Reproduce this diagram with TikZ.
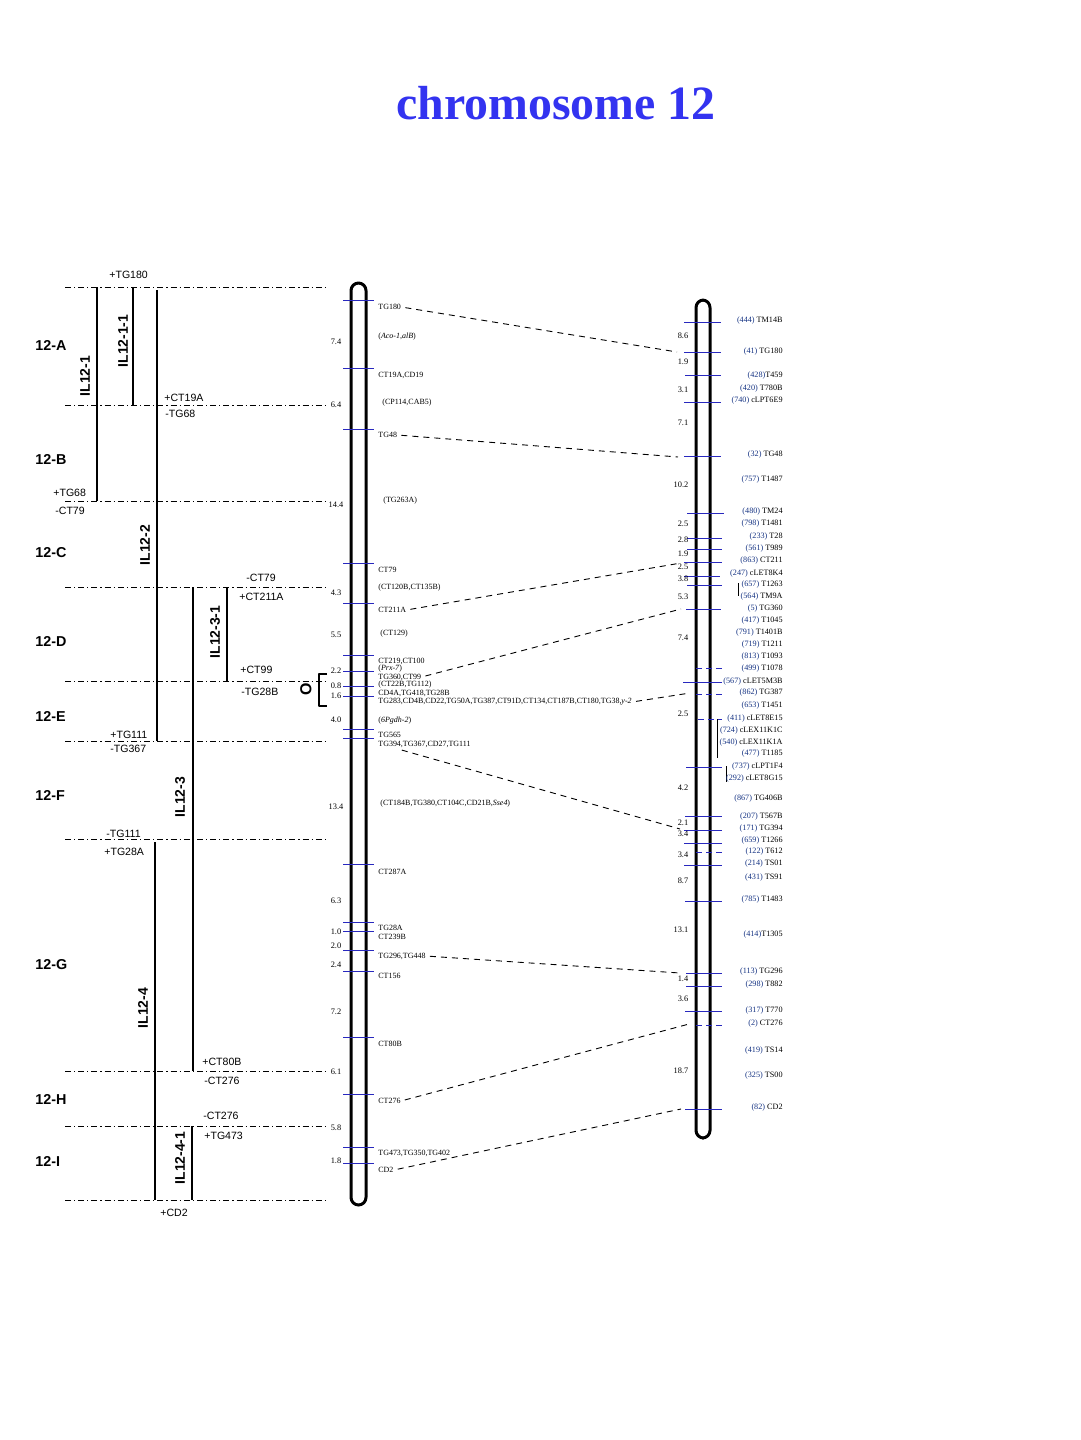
\documentclass[tikz,border=0pt]{standalone}
\usepackage{fontspec}
\setmainfont{Liberation Serif}
\setsansfont{Liberation Sans}
\definecolor{titleblue}{RGB}{51,51,240}
\definecolor{tickblue}{RGB}{40,40,190}
\definecolor{numblue}{RGB}{20,50,130}
\newcommand\pn[1]{{\color{numblue}(#1)}}
\begin{document}
\begin{tikzpicture}[x=0.5bp,y=-0.5bp,line join=bevel,
  mk/.style={font=\fontsize{4.0}{5}\selectfont,inner sep=0pt,anchor=west},
  mkr/.style={font=\fontsize{4.1}{5}\selectfont,inner sep=0pt,anchor=east},
  dist/.style={font=\fontsize{4.2}{5}\selectfont,inner sep=0pt},
  sgn/.style={font=\sffamily\fontsize{5.3}{6}\selectfont,inner sep=0pt,anchor=west},
  reg/.style={font=\sffamily\bfseries\fontsize{7.2}{8}\selectfont,inner sep=0pt,anchor=west},
  il/.style={font=\sffamily\bfseries\fontsize{7}{8}\selectfont,inner sep=0pt,rotate=90},
  bnd/.style={line width=0.45bp,dash pattern=on 3bp off 1.5bp on 0.6bp off 1.5bp},
  bar/.style={line width=1.1bp},
  tk/.style={tickblue,line width=0.5bp},
  tkd/.style={tickblue,line width=0.5bp,dash pattern=on 3bp off 2bp},
  lnk/.style={line width=0.45bp,dash pattern=on 3bp off 2.5bp,shorten <=2bp},
  chr/.style={line width=1.5bp,rounded corners=3.8bp},
]
    %%
    \useasboundingbox (0,0) rectangle (1080,1440);
    \node (title) at (556,103) [font=\bfseries\fontsize{24}{28}\selectfont,text=titleblue] {chromosome 12};
    %% bin boundaries
    \draw [bnd] (65,287) -- (328,287);
    \draw [bnd] (65,405) -- (328,405);
    \draw [bnd] (65,501) -- (328,501);
    \draw [bnd] (65,587) -- (328,587);
    \draw [bnd] (65,681) -- (328,681);
    \draw [bnd] (65,741) -- (328,741);
    \draw [bnd] (65,839) -- (328,839);
    \draw [bnd] (65,1071) -- (328,1071);
    \draw [bnd] (65,1126) -- (328,1126);
    \draw [bnd] (65,1200) -- (328,1200);
    %% bins
    \node (12A) at (35,345) [reg] {12-A};
    \node (12B) at (35,459) [reg] {12-B};
    \node (12C) at (35,553) [reg] {12-C};
    \node (12D) at (35,641) [reg] {12-D};
    \node (12E) at (35,716) [reg] {12-E};
    \node (12F) at (35,795) [reg] {12-F};
    \node (12G) at (35,965) [reg] {12-G};
    \node (12H) at (35,1099) [reg] {12-H};
    \node (12I) at (35,1161) [reg] {12-I};
    %% introgression lines
    \draw [bar] (97,287) -- (97,501);
    \draw [bar] (133,287) -- (133,405);
    \draw [bar] (157,290) -- (157,741);
    \draw [bar] (227,587) -- (227,681);
    \draw [bar] (193,587) -- (193,1071);
    \draw [bar] (155,842) -- (155,1200);
    \draw [bar] (192,1126) -- (192,1200);
    \node (IL121) at (85,376) [il] {IL12-1};
    \node (IL1211) at (123,341) [il] {IL12-1-1};
    \node (IL122) at (145,545) [il] {IL12-2};
    \node (IL1231) at (215,632) [il] {IL12-3-1};
    \node (IL123) at (180,797) [il] {IL12-3};
    \node (IL124) at (143,1008) [il] {IL12-4};
    \node (IL1241) at (180,1158) [il] {IL12-4-1};
    %% end markers
    \node (s1) at (109,275) [sgn] {+TG180};
    \node (s2) at (164,398) [sgn] {+CT19A};
    \node (s3) at (165,414) [sgn] {-TG68};
    \node (s4) at (53,493) [sgn] {+TG68};
    \node (s5) at (55,511) [sgn] {-CT79};
    \node (s6) at (246,578) [sgn] {-CT79};
    \node (s7) at (239,597) [sgn] {+CT211A};
    \node (s8) at (240,670) [sgn] {+CT99};
    \node (s9) at (241,692) [sgn] {-TG28B};
    \node (s10) at (110,735) [sgn] {+TG111};
    \node (s11) at (110,749) [sgn] {-TG367};
    \node (s12) at (106,834) [sgn] {-TG111};
    \node (s13) at (104,852) [sgn] {+TG28A};
    \node (s14) at (202,1062) [sgn] {+CT80B};
    \node (s15) at (204,1081) [sgn] {-CT276};
    \node (s16) at (203,1116) [sgn] {-CT276};
    \node (s17) at (204,1136) [sgn] {+TG473};
    \node (s18) at (160,1213) [sgn] {+CD2};
    \node (ovl) at (306,689) [font=\sffamily\bfseries\fontsize{8}{8}\selectfont,inner sep=0pt,rotate=90] {O};
    \draw [line width=1.2bp] (327,674) -- (319,674) -- (319,706) -- (327,706);
    %% left map
    \draw [chr] (351,283) rectangle (366,1205);
    \draw [tk] (343,300) -- (374,300);
    \draw [tk] (343,368) -- (374,368);
    \draw [tk] (343,429) -- (374,429);
    \draw [tk] (343,563) -- (374,563);
    \draw [tk] (343,603) -- (374,603);
    \draw [tk] (343,655) -- (374,655);
    \draw [tk] (343,671) -- (374,671);
    \draw [tk] (343,686) -- (374,686);
    \draw [tk] (343,696) -- (374,696);
    \draw [tk] (343,729) -- (374,729);
    \draw [tk] (343,738) -- (374,738);
    \draw [tk] (343,864) -- (374,864);
    \draw [tk] (343,922) -- (374,922);
    \draw [tk] (343,931) -- (374,931);
    \draw [tk] (343,950) -- (374,950);
    \draw [tk] (343,971) -- (374,971);
    \draw [tk] (343,1037) -- (374,1037);
    \draw [tk] (343,1094) -- (374,1094);
    \draw [tk] (343,1147) -- (374,1147);
    \draw [tk] (343,1163) -- (374,1163);
    \node (d1) at (336,342) [dist] {7.4};
    \node (d2) at (336,405) [dist] {6.4};
    \node (d3) at (336,505) [dist] {14.4};
    \node (d4) at (336,593) [dist] {4.3};
    \node (d5) at (336,635) [dist] {5.5};
    \node (d6) at (336,671) [dist] {2.2};
    \node (d7) at (336,686) [dist] {0.8};
    \node (d8) at (336,696) [dist] {1.6};
    \node (d9) at (336,720) [dist] {4.0};
    \node (d10) at (336,807) [dist] {13.4};
    \node (d11) at (336,901) [dist] {6.3};
    \node (d12) at (336,932) [dist] {1.0};
    \node (d13) at (336,946) [dist] {2.0};
    \node (d14) at (336,965) [dist] {2.4};
    \node (d15) at (336,1012) [dist] {7.2};
    \node (d16) at (336,1072) [dist] {6.1};
    \node (d17) at (336,1128) [dist] {5.8};
    \node (d18) at (336,1161) [dist] {1.8};
    \node (TG180) at (378,307) [mk] {TG180};
    \node (Aco) at (378,337) [mk] {(\textit{Aco-1,alB})};
    \node (CT19A) at (378,375) [mk] {CT19A,CD19};
    \node (CP114) at (382,403) [mk] {(CP114,CAB5)};
    \node (TG48) at (378,435) [mk] {TG48};
    \node (TG263A) at (383,501) [mk] {(TG263A)};
    \node (CT79) at (378,570) [mk] {CT79};
    \node (CT120B) at (378,588) [mk] {(CT120B,CT135B)};
    \node (CT211A) at (378,610) [mk] {CT211A};
    \node (CT129) at (380,634) [mk] {(CT129)};
    \node (CT219) at (378,661) [mk] {CT219,CT100};
    \node (Prx) at (378,669) [mk] {(\textit{Prx-7})};
    \node (TG360) at (378,677) [mk] {TG360,CT99};
    \node (CT22B) at (378,685) [mk] {(CT22B,TG112)};
    \node (CD4A) at (378,693) [mk] {CD4A,TG418,TG28B};
    \node (TG283) at (378,702) [mk] {TG283,CD4B,CD22,TG50A,TG387,CT91D,CT134,CT187B,CT180,TG38,\textit{y-2}};
    \node (Pgdh) at (378,721) [mk] {(\textit{6Pgdh-2})};
    \node (TG565) at (378,735) [mk] {TG565};
    \node (TG394) at (378,744) [mk] {TG394,TG367,CD27,TG111};
    \node (CT184B) at (380,804) [mk] {(CT184B,TG380,CT104C,CD21B,\textit{Sse4})};
    \node (CT287A) at (378,872) [mk] {CT287A};
    \node (TG28A) at (378,928) [mk] {TG28A};
    \node (CT239B) at (378,937) [mk] {CT239B};
    \node (TG296) at (378,956) [mk] {TG296,TG448};
    \node (CT156) at (378,976) [mk] {CT156};
    \node (CT80B) at (378,1044) [mk] {CT80B};
    \node (CT276) at (378,1101) [mk] {CT276};
    \node (TG473) at (378,1153) [mk] {TG473,TG350,TG402};
    \node (CD2) at (378,1170) [mk] {CD2};
    %% right map
    \draw [chr] (696,300) rectangle (710,1138);
    \draw [tk] (684,322) -- (721,322);
    \draw [tk] (684,352) -- (721,352);
    \draw [tk] (685,375) -- (721,375);
    \draw [tk] (684,402) -- (721,402);
    \draw [tk] (684,456) -- (721,456);
    \draw [tk] (687,513) -- (724,513);
    \draw [tk] (687,538) -- (722,538);
    \draw [tk] (687,549) -- (722,549);
    \draw [tk] (684,562) -- (722,562);
    \draw [tk] (684,576) -- (720,576);
    \draw [tk] (687,585) -- (722,585);
    \draw [tk] (686,609) -- (721,609);
    \draw [tkd] (696,668) -- (722,668);
    \draw [tk] (683,682) -- (722,682);
    \draw [tkd] (696,694) -- (722,694);
    \draw [tkd] (698,719) -- (722,719);
    \draw [tk] (686,767) -- (722,767);
    \draw [tk] (685,816) -- (722,816);
    \draw [tk] (684,830) -- (722,830);
    \draw [tk] (684,843) -- (722,843);
    \draw [tkd] (696,852) -- (722,852);
    \draw [tk] (684,865) -- (722,865);
    \draw [tk] (685,901) -- (722,901);
    \draw [tk] (686,973) -- (722,973);
    \draw [tk] (686,986) -- (722,986);
    \draw [tk] (685,1011) -- (722,1011);
    \draw [tkd] (696,1025) -- (722,1025);
    \draw [tk] (685,1109) -- (722,1109);
    \draw [line width=0.5bp] (738,583) -- (738,596);
    \draw [line width=0.5bp] (717,719) -- (717,758);
    \draw [line width=0.5bp] (726,766) -- (726,782);
    \node (e1) at (683,336) [dist] {8.6};
    \node (e2) at (683,362) [dist] {1.9};
    \node (e3) at (683,390) [dist] {3.1};
    \node (e4) at (683,423) [dist] {7.1};
    \node (e5) at (681,485) [dist] {10.2};
    \node (e6) at (683,524) [dist] {2.5};
    \node (e7) at (683,540) [dist] {2.8};
    \node (e8) at (683,554) [dist] {1.9};
    \node (e9) at (683,567) [dist] {2.5};
    \node (e10) at (683,579) [dist] {3.8};
    \node (e11) at (683,597) [dist] {5.3};
    \node (e12) at (683,638) [dist] {7.4};
    \node (e13) at (683,714) [dist] {2.5};
    \node (e14) at (683,788) [dist] {4.2};
    \node (e15) at (683,823) [dist] {2.1};
    \node (e16) at (683,834) [dist] {3.4};
    \node (e17) at (683,855) [dist] {3.4};
    \node (e18) at (683,881) [dist] {8.7};
    \node (e19) at (681,930) [dist] {13.1};
    \node (e20) at (683,979) [dist] {1.4};
    \node (e21) at (683,999) [dist] {3.6};
    \node (e22) at (681,1071) [dist] {18.7};
    \node (r1) at (783,321) [mkr] {\pn{444} TM14B};
    \node (r2) at (783,352) [mkr] {\pn{41} TG180};
    \node (r3) at (783,376) [mkr] {\pn{428}T459};
    \node (r4) at (783,389) [mkr] {\pn{420} T780B};
    \node (r5) at (783,401) [mkr] {\pn{740} cLPT6E9};
    \node (r6) at (783,455) [mkr] {\pn{32} TG48};
    \node (r7) at (783,480) [mkr] {\pn{757} T1487};
    \node (r8) at (783,512) [mkr] {\pn{480} TM24};
    \node (r9) at (783,524) [mkr] {\pn{798} T1481};
    \node (r10) at (783,537) [mkr] {\pn{233} T28};
    \node (r11) at (783,549) [mkr] {\pn{561} T989};
    \node (r12) at (783,561) [mkr] {\pn{863} CT211};
    \node (r13) at (783,574) [mkr] {\pn{247} cLET8K4};
    \node (r14) at (783,585) [mkr] {\pn{657} T1263};
    \node (r15) at (783,597) [mkr] {\pn{564} TM9A};
    \node (r16) at (783,609) [mkr] {\pn{5} TG360};
    \node (r17) at (783,621) [mkr] {\pn{417} T1045};
    \node (r18) at (783,633) [mkr] {\pn{791} T1401B};
    \node (r19) at (783,645) [mkr] {\pn{719} T1211};
    \node (r20) at (783,657) [mkr] {\pn{813} T1093};
    \node (r21) at (783,669) [mkr] {\pn{499} T1078};
    \node (r22) at (783,682) [mkr] {\pn{567} cLET5M3B};
    \node (r23) at (783,693) [mkr] {\pn{862} TG387};
    \node (r24) at (783,706) [mkr] {\pn{653} T1451};
    \node (r25) at (783,719) [mkr] {\pn{411} cLET8E15};
    \node (r26) at (783,731) [mkr] {\pn{724} cLEX11K1C};
    \node (r27) at (783,743) [mkr] {\pn{540} cLEX11K1A};
    \node (r28) at (783,754) [mkr] {\pn{477} T1185};
    \node (r29) at (783,767) [mkr] {\pn{737} cLPT1F4};
    \node (r30) at (783,779) [mkr] {\pn{292} cLET8G15};
    \node (r31) at (783,799) [mkr] {\pn{867} TG406B};
    \node (r32) at (783,817) [mkr] {\pn{207} T567B};
    \node (r33) at (783,829) [mkr] {\pn{171} TG394};
    \node (r34) at (783,841) [mkr] {\pn{659} T1266};
    \node (r35) at (783,852) [mkr] {\pn{122} T612};
    \node (r36) at (783,864) [mkr] {\pn{214} TS01};
    \node (r37) at (783,878) [mkr] {\pn{431} TS91};
    \node (r38) at (783,900) [mkr] {\pn{785} T1483};
    \node (r39) at (783,935) [mkr] {\pn{414}T1305};
    \node (r40) at (783,972) [mkr] {\pn{113} TG296};
    \node (r41) at (783,985) [mkr] {\pn{298} T882};
    \node (r42) at (783,1011) [mkr] {\pn{317} T770};
    \node (r43) at (783,1024) [mkr] {\pn{2} CT276};
    \node (r44) at (783,1051) [mkr] {\pn{419} TS14};
    \node (r45) at (783,1076) [mkr] {\pn{325} TS00};
    \node (r46) at (783,1108) [mkr] {\pn{82} CD2};
    %% shared markers
    \coordinate (pTG180) at (677,352);
    \coordinate (pTG48) at (678,457);
    \coordinate (pCT211) at (681,563);
    \coordinate (pTG360) at (681,609);
    \coordinate (pTG387) at (690,693);
    \coordinate (pTG394) at (680,829);
    \coordinate (pTG296) at (680,973);
    \coordinate (pCT276) at (689,1024);
    \coordinate (pCD2) at (681,1109);
    \coordinate (qTG394) at (398,749);
    \draw [lnk] (TG180.east) -- (pTG180);
    \draw [lnk] (TG48.east) -- (pTG48);
    \draw [lnk] (CT211A.east) -- (pCT211);
    \draw [lnk] (TG360.east) -- (pTG360);
    \draw [lnk] (TG283.east) -- (pTG387);
    \draw [lnk] (qTG394) -- (pTG394);
    \draw [lnk] (TG296.east) -- (pTG296);
    \draw [lnk] (CT276.east) -- (pCT276);
    \draw [lnk] (CD2.east) -- (pCD2);
    %
\end{tikzpicture}
\end{document}
